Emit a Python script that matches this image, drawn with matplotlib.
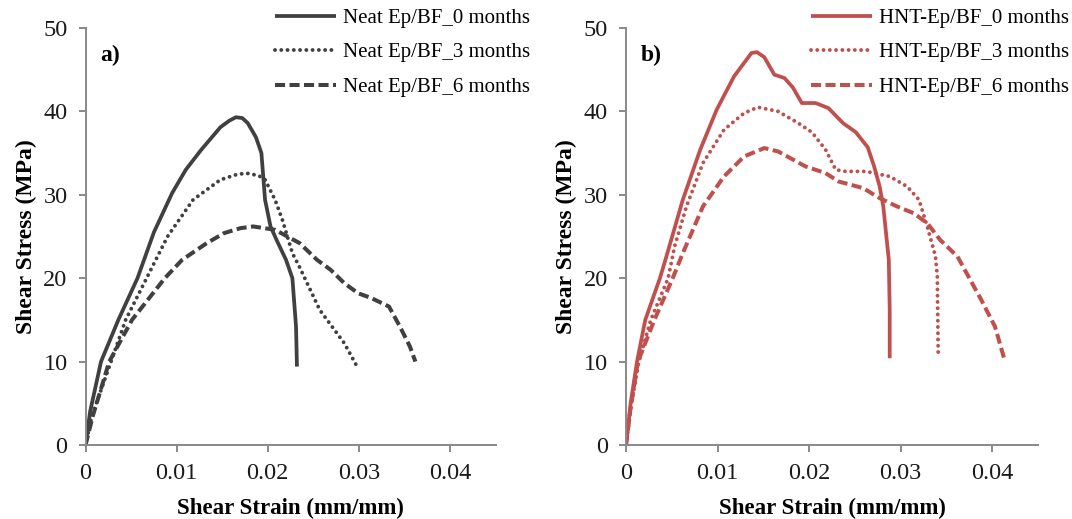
import matplotlib
matplotlib.use("Agg")
from matplotlib import pyplot as plt

plt.rcParams['font.family'] = ['Liberation Serif', 'DejaVu Serif']

## data ##################################################################
# a) neat epoxy / basalt fibre
neat_labels = ['Neat Ep/BF_0 months', 'Neat Ep/BF_3 months', 'Neat Ep/BF_6 months']
neat0_strain = [0, 0.0005, 0.0017, 0.0036, 0.0057, 0.0075, 0.0095, 0.0110, 0.0127, 0.0148,
                0.0158, 0.0165, 0.0172, 0.0178, 0.0187, 0.0193, 0.0197, 0.0203, 0.0210,
                0.0220, 0.0227, 0.0231, 0.0232]
neat0_stress = [0, 4.0, 10.0, 15.0, 20.0, 25.5, 30.2, 33.0, 35.4, 38.1,
                38.9, 39.3, 39.2, 38.6, 36.9, 35.0, 29.4, 26.2, 24.5,
                22.2, 20.0, 14.2, 9.4]
neat3_strain = [0, 0.0007, 0.0028, 0.0044, 0.0067, 0.0090, 0.0118, 0.0148, 0.0165, 0.0176,
                0.0190, 0.0197, 0.0208, 0.0216, 0.0227, 0.0235, 0.0257, 0.0284, 0.0298]
neat3_stress = [0, 3.5, 10.0, 15.0, 20.0, 25.0, 29.4, 31.8, 32.4, 32.6,
                32.3, 31.8, 29.4, 27.0, 23.0, 21.3, 16.2, 12.2, 9.4]
neat6_strain = [0, 0.0008, 0.0026, 0.0051, 0.0087, 0.0106, 0.0133, 0.0152, 0.0170, 0.0184,
                0.0208, 0.0235, 0.0254, 0.0269, 0.0284, 0.0299, 0.0314, 0.0333, 0.0345,
                0.0356, 0.0362]
neat6_stress = [0, 3.5, 10.0, 15.0, 20.0, 22.2, 24.2, 25.4, 26.0, 26.2,
                25.8, 24.2, 22.2, 21.0, 19.4, 18.2, 17.6, 16.6, 14.2,
                11.8, 10.0]

# b) halloysite nanotube epoxy / basalt fibre
hnt_labels = ['HNT-Ep/BF_0 months', 'HNT-Ep/BF_3 months', 'HNT-Ep/BF_6 months']
hnt0_strain = [0, 0.0005, 0.0012, 0.0021, 0.0037, 0.0043, 0.0062, 0.0081, 0.0099, 0.0118,
               0.0137, 0.0143, 0.0151, 0.0162, 0.0173, 0.0182, 0.0192, 0.0207, 0.0221,
               0.0237, 0.0251, 0.0264, 0.0271, 0.0277, 0.0281, 0.0284, 0.0287, 0.0288, 0.0288]
hnt0_stress = [0, 5.0, 10.0, 15.0, 20.0, 22.2, 29.4, 35.4, 40.2, 44.2,
               47.0, 47.1, 46.5, 44.4, 44.0, 42.9, 41.0, 41.0, 40.4,
               38.6, 37.5, 35.7, 33.4, 31.0, 28.6, 25.4, 22.2, 16.2, 10.4]
hnt3_strain = [0, 0.0006, 0.0014, 0.0027, 0.0046, 0.0053, 0.0066, 0.0084, 0.0107, 0.0129,
               0.0144, 0.0166, 0.0188, 0.0203, 0.0218, 0.0229, 0.0240, 0.0262, 0.0288,
               0.0307, 0.0320, 0.0329, 0.0338, 0.0340, 0.0341]
hnt3_stress = [0, 5.0, 10.0, 15.0, 20.0, 23.8, 28.6, 33.8, 37.8, 39.8,
               40.5, 40.0, 38.6, 37.5, 35.4, 33.0, 32.8, 32.8, 32.2,
               31.0, 29.4, 26.2, 22.6, 20.2, 10.4]
hnt6_strain = [0, 0.0005, 0.0013, 0.0031, 0.0051, 0.0062, 0.0084, 0.0107, 0.0129, 0.0151,
               0.0166, 0.0196, 0.0218, 0.0232, 0.0259, 0.0277, 0.0296, 0.0314, 0.0329,
               0.0343, 0.0362, 0.0370, 0.0388, 0.0403, 0.0414]
hnt6_stress = [0, 4.5, 10.0, 15.0, 20.0, 23.0, 28.6, 32.2, 34.6, 35.6,
               35.2, 33.4, 32.6, 31.6, 30.8, 29.6, 28.6, 27.8, 26.6,
               24.6, 22.6, 21.0, 17.4, 14.2, 10.0]

x_ticks = [0, 0.01, 0.02, 0.03, 0.04]
x_ticklabels = ['0', '0.01', '0.02', '0.03', '0.04']
y_ticks = [0, 10, 20, 30, 40, 50]
##########################################################################

spine_col = '#898989'
styles = [dict(linestyle='-', linewidth=2.7, solid_capstyle='butt', solid_joinstyle='round'),
          dict(linestyle=(0, (0.01, 1.6)), linewidth=2.8, dash_capstyle='round'),
          dict(linestyle=(0, (2.5, 1.1)), linewidth=2.9, dash_capstyle='butt')]

fig = plt.figure(figsize=(10.72, 5.19), dpi=100)
ax_a = fig.add_axes([0.0798, 0.1426, 0.3825, 0.8035])
ax_b = fig.add_axes([0.5840, 0.1426, 0.3843, 0.8035])

panels = [
    (ax_a, '#404040', neat_labels,
     [(neat0_strain, neat0_stress), (neat3_strain, neat3_stress), (neat6_strain, neat6_stress)],
     'a)', 0.2565),
    (ax_b, '#C0504D', hnt_labels,
     [(hnt0_strain, hnt0_stress), (hnt3_strain, hnt3_stress), (hnt6_strain, hnt6_stress)],
     'b)', 0.7565),
]

for ax, col, labels, series, tag, leg_x in panels:
    for (xs, ys), lab, st in zip(series, labels, styles):
        ax.plot(xs, ys, color=col, label=lab, **st)

    ax.set_xlim(0, 0.045)
    ax.set_ylim(0, 50)
    ax.set_xticks(x_ticks)
    ax.set_xticklabels(x_ticklabels)
    ax.set_yticks(y_ticks)
    for side in ['top', 'right']:
        ax.spines[side].set_visible(False)
    for side in ['left', 'bottom']:
        ax.spines[side].set_color(spine_col)
        ax.spines[side].set_linewidth(1.4)
    ax.tick_params(direction='out', length=5, width=1.4, color=spine_col,
                   labelsize=17.5, pad=8, labelcolor='#1a1a1a')

    ax.set_xlabel('Shear Strain (mm/mm)', fontsize=16.5, fontweight='bold')
    ax.set_ylabel('Shear Stress (MPa)', fontsize=17, fontweight='bold')
    ax.xaxis.set_label_coords(0.5, -0.126)
    ax.yaxis.set_label_coords(-0.118, 0.5)

    ax.text(0.035, 0.935, tag, transform=ax.transAxes, fontsize=17,
            fontweight='bold', va='center', ha='left')

    ax.legend(loc='upper left', bbox_to_anchor=(leg_x, 0.984), bbox_transform=fig.transFigure,
              frameon=False, fontsize=15, handlelength=2.95, handletextpad=0.3,
              borderpad=0, borderaxespad=0, labelspacing=0.72)

fig.savefig('out.png', dpi=100)
